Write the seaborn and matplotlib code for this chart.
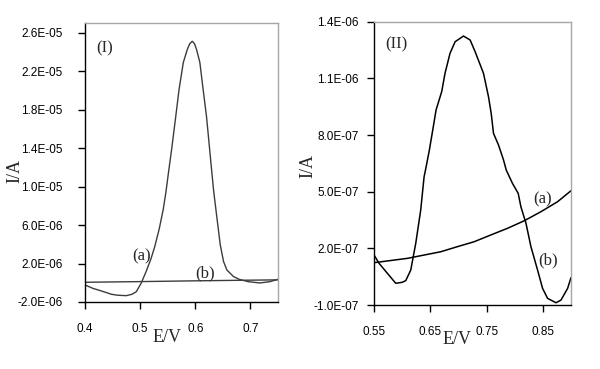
import matplotlib
matplotlib.use("Agg")
import matplotlib.pyplot as plt
import seaborn as sns
import pandas as pd
from matplotlib.ticker import FuncFormatter, FixedLocator

# ---- Data (panel I), current in 1e-6 A ----
p1_a_x = [0.400, 0.415, 0.424, 0.435, 0.448, 0.460, 0.475, 0.485, 0.493, 0.5018,
          0.5108, 0.5197, 0.5262, 0.5346, 0.5418, 0.5467, 0.5508, 0.5574, 0.5646, 0.5706,
          0.5783, 0.5855, 0.590, 0.5945, 0.5985, 0.6023, 0.6083, 0.6142, 0.6203, 0.625,
          0.6293, 0.6334, 0.6393, 0.6453, 0.6513, 0.6573, 0.6693, 0.680, 0.6962, 0.717,
          0.735, 0.750]
p1_a_y = [-0.23, -0.60, -0.75, -0.95, -1.20, -1.30, -1.34, -1.20, -0.93, -0.05,
          1.16, 2.5, 3.7, 5.6, 7.6, 9.4, 11.2, 14.0, 17.3, 20.1,
          22.9, 24.25, 24.85, 25.1, 24.85, 24.25, 22.9, 20.1, 17.3, 14.5,
          11.9, 9.49, 6.72, 3.94, 2.2, 1.33, 0.64, 0.35, 0.11, -0.02,
          0.11, 0.36]
p1_b_x = [0.40, 0.50, 0.60, 0.70, 0.75]
p1_b_y = [0.05, 0.12, 0.20, 0.27, 0.30]

# ---- Data (panel II), current in 1e-6 A ----
p2_peak_x = [0.550, 0.5589, 0.5737, 0.5886, 0.600, 0.6064, 0.6153, 0.6242, 0.633, 0.639,
             0.6425, 0.6484, 0.6544, 0.6603, 0.6703, 0.6762, 0.6851, 0.6941, 0.709, 0.7208,
             0.7297, 0.7445, 0.7534, 0.7582, 0.7623, 0.7712, 0.7801, 0.7849, 0.796, 0.8062,
             0.811, 0.820, 0.8288, 0.8406, 0.8495, 0.8584, 0.8733, 0.8822, 0.894, 0.900]
p2_peak_y = [0.165, 0.121, 0.068, 0.015, 0.020, 0.029, 0.085, 0.227, 0.403, 0.579,
             0.630, 0.721, 0.827, 0.933, 1.030, 1.127, 1.233, 1.294, 1.324, 1.303,
             1.241, 1.127, 1.003, 0.915, 0.809, 0.747, 0.668, 0.615, 0.544, 0.491,
             0.420, 0.333, 0.209, 0.085, -0.012, -0.065, -0.088, -0.074, -0.012, 0.045]
p2_base_x = [0.55, 0.6093, 0.6687, 0.6983, 0.728, 0.7577, 0.7872, 0.8169, 0.8466, 0.8762, 0.90]
p2_base_y = [0.124, 0.147, 0.182, 0.209, 0.235, 0.271, 0.306, 0.346, 0.394, 0.447, 0.505]

p1_xticks = [0.4, 0.5, 0.6, 0.7]
p1_yticks = [-2e-6, 2e-6, 6e-6, 10e-6, 14e-6, 18e-6, 22e-6, 26e-6]
p2_xticks = [0.55, 0.65, 0.75, 0.85]
p2_yticks = [-1e-7, 2e-7, 5e-7, 8e-7, 11e-7, 14e-7]

sns.set_theme(style="ticks")
plt.rcParams['font.family'] = ['Liberation Sans', 'DejaVu Sans']

fig = plt.figure(figsize=(6.0, 3.69), dpi=100)
fig.patch.set_facecolor("white")
ax1 = fig.add_axes([85/600, 1-302/369, (278-85)/600, (302-23)/369])
ax2 = fig.add_axes([374/600, 1-305/369, (571-374)/600, (305-21.7)/369])

df1a = pd.DataFrame({"E": p1_a_x, "I": [v*1e-6 for v in p1_a_y]})
df1b = pd.DataFrame({"E": p1_b_x, "I": [v*1e-6 for v in p1_b_y]})
df2p = pd.DataFrame({"E": p2_peak_x, "I": [v*1e-6 for v in p2_peak_y]})
df2b = pd.DataFrame({"E": p2_base_x, "I": [v*1e-6 for v in p2_base_y]})

c1 = "#3c3c3c"
sns.lineplot(data=df1a, x="E", y="I", ax=ax1, color=c1, lw=1.0, estimator=None)
sns.lineplot(data=df1b, x="E", y="I", ax=ax1, color=c1, lw=1.0, estimator=None)
sns.lineplot(data=df2p, x="E", y="I", ax=ax2, color="black", lw=1.1, estimator=None)
sns.lineplot(data=df2b, x="E", y="I", ax=ax2, color="black", lw=1.1, estimator=None)

fmt = FuncFormatter(lambda v, p: f"{v:.1E}")

ax1.set_xlim(0.4, 0.75)
ax1.set_ylim(-2e-6, 2.7e-5)
ax1.xaxis.set_major_locator(FixedLocator(p1_xticks))
ax1.yaxis.set_major_locator(FixedLocator(p1_yticks))
ax1.set_xticklabels([f"{v:g}" for v in p1_xticks])
ax1.yaxis.set_major_formatter(fmt)

ax2.set_xlim(0.55, 0.90)
ax2.set_ylim(-1e-7, 1.4e-6)
ax2.xaxis.set_major_locator(FixedLocator(p2_xticks))
ax2.yaxis.set_major_locator(FixedLocator(p2_yticks))
ax2.set_xticklabels([f"{v:.2f}" for v in p2_xticks])
ax2.yaxis.set_major_formatter(fmt)

serif = ['Liberation Serif', 'DejaVu Serif']
for ax, ypad in ((ax1, 11), (ax2, 6)):
    ax.set_facecolor("white")
    ax.spines['top'].set_color("#a6a6a6")
    ax.spines['right'].set_color("#a6a6a6")
    ax.spines['left'].set_color("black")
    ax.spines['bottom'].set_color("black")
    for s in ax.spines.values():
        s.set_linewidth(1.0)
    ax.tick_params(axis='both', direction='out', length=5, width=1.0, colors='black',
                   labelsize=8.5)
    ax.tick_params(axis='y', pad=ypad)
    ax.tick_params(axis='x', pad=10)
    ax.set_xlabel("")
    ax.set_ylabel("")

fig.text(15/600, 1-171/369, "I/A", rotation=90, ha='center', va='center',
         family=serif, fontsize=13)
fig.text(308/600, 1-166/369, "I/A", rotation=90, ha='center', va='center',
         family=serif, fontsize=13)
fig.text(167/600, 1-338/369, "E/V", ha='center', va='center', family=serif, fontsize=13)
fig.text(457/600, 1-340/369, "E/V", ha='center', va='center', family=serif, fontsize=13)

ax1.text(0.436, 2.44e-5, "(I)", ha='center', va='center', family=serif, fontsize=12)
ax1.text(0.5018, 2.72e-6, "(a)", ha='center', va='center', family=serif, fontsize=12)
ax1.text(0.6185, 0.99e-6, "(b)", ha='center', va='center', family=serif, fontsize=12)
ax2.text(0.5904, 1.282e-6, "(II)", ha='center', va='center', family=serif, fontsize=12)
ax2.text(0.8495, 0.46e-6, "(a)", ha='center', va='center', family=serif, fontsize=12)
ax2.text(0.8584, 0.138e-6, "(b)", ha='center', va='center', family=serif, fontsize=12)

fig.savefig("out.png", dpi=100, facecolor="white")
